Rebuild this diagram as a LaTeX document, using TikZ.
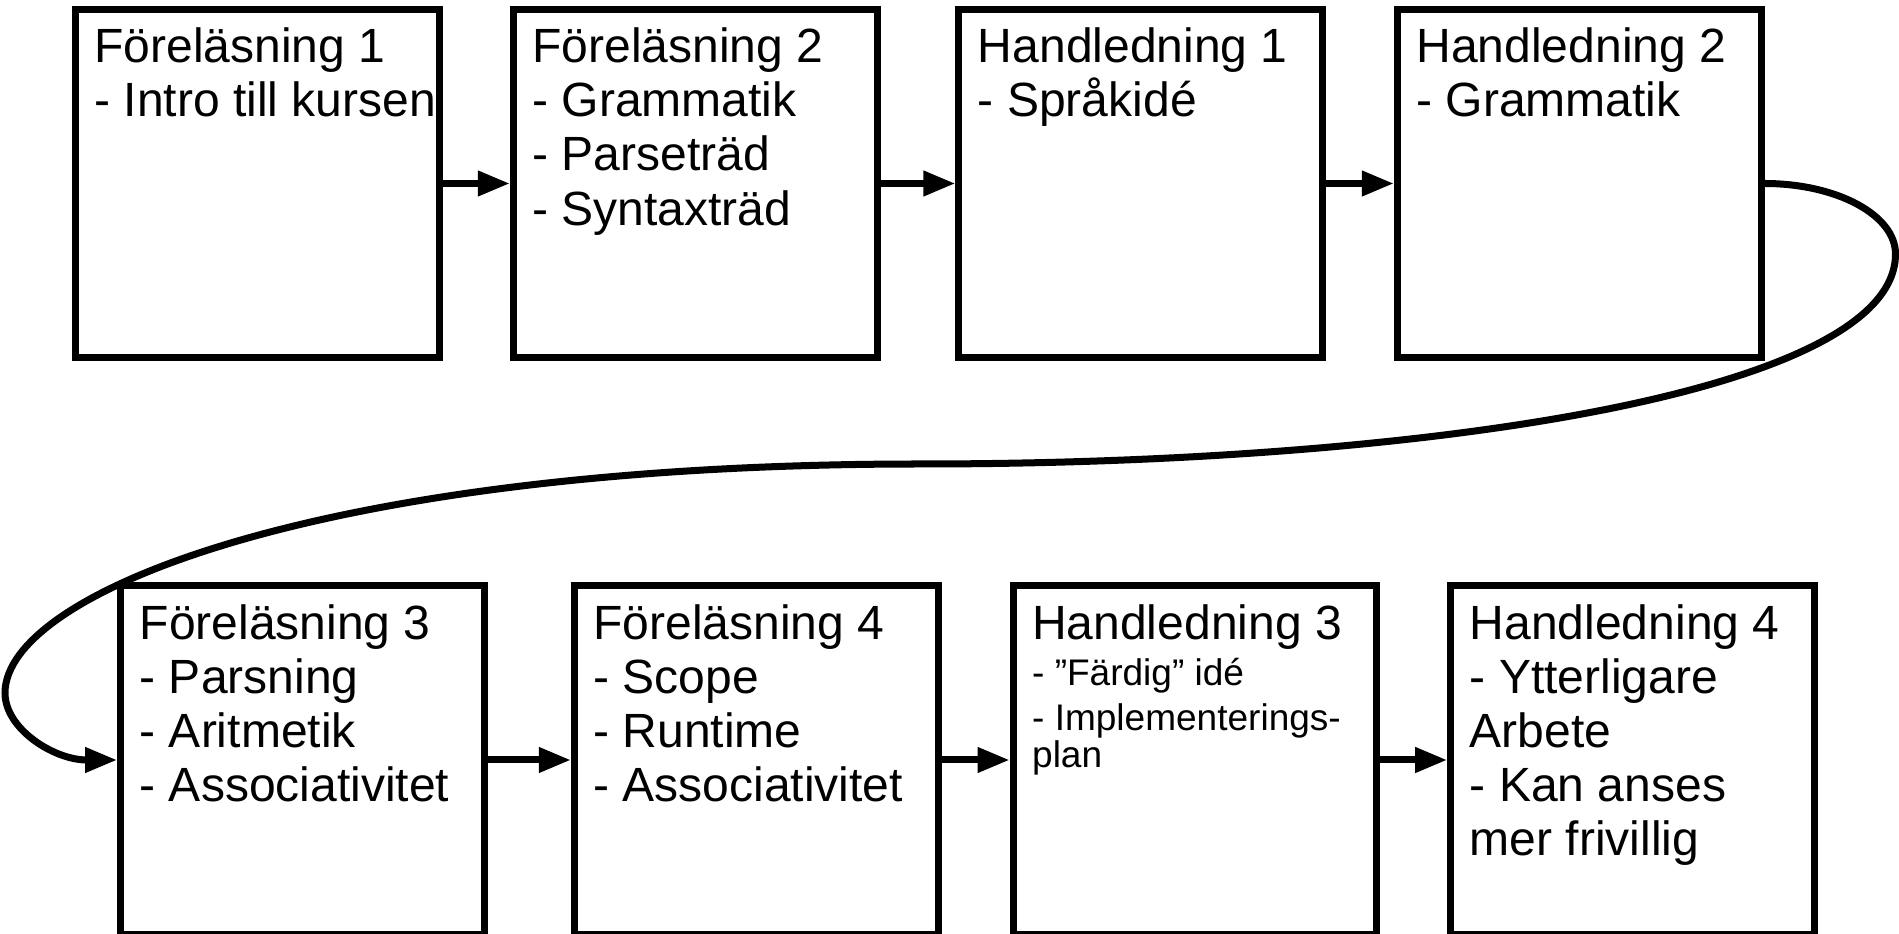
\documentclass[tikz,border=0pt]{standalone}
\usepackage{fontspec}
\setmainfont{Liberation Sans}
\usetikzlibrary{arrows.meta}
\newcommand{\slotline}[2][0.54cm]{\baselineskip=#1\hbox to 3.255cm{#2\hss}}
\newcommand{\smalltext}{\fontsize{10.53pt}{11pt}\selectfont}
\begin{document}
\begin{tikzpicture}[x=0.01cm,y=-0.01cm,line width=0.07cm,
  slot/.style={draw,rectangle,minimum width=3.635cm,minimum height=3.48cm,inner xsep=0.19cm,inner ysep=0pt,
    text height=0.535cm,text depth=2.945cm,font=\fontsize{13.66pt}{15.37pt}\selectfont},
  link/.style={-{Triangle[length=0.32cm,width=0.24cm]}}]
\useasboundingbox (0,0) rectangle (1899,934);
% top row
\node[slot] (f1) at (257.25,183.5) {\vtop{\lineskiplimit=-1cm\slotline{Föreläsning 1}\slotline{- Intro till kursen}}};
\node[slot] (f2) at (695.25,183.5) {\vtop{\lineskiplimit=-1cm\slotline{Föreläsning 2}\slotline{- Grammatik}\slotline{- Parseträd}\slotline{- Syntaxträd}}};
\node[slot] (h1) at (1140.75,183.5) {\vtop{\lineskiplimit=-1cm\slotline{Handledning 1}\slotline{- Språkidé}}};
\node[slot] (h2) at (1579.25,183.5) {\vtop{\lineskiplimit=-1cm\slotline{Handledning 2}\slotline{- Grammatik}}};
% bottom row
\node[slot] (f3) at (302.5,760) {\vtop{\lineskiplimit=-1cm\slotline{Föreläsning 3}\slotline{- Parsning}\slotline{- Aritmetik}\slotline{- Associativitet}}};
\node[slot] (f4) at (756.25,760) {\vtop{\lineskiplimit=-1cm\slotline{Föreläsning 4}\slotline{- Scope}\slotline{- Runtime}\slotline{- Associativitet}}};
\node[slot] (h3) at (1195,760) {\vtop{\lineskiplimit=-1cm\slotline{Handledning 3}\slotline[0.465cm]{\smalltext - ”Färdig” idé}\slotline[0.45cm]{\smalltext - Implementerings-}\slotline[0.37cm]{\smalltext plan}}};
\node[slot] (h4) at (1632.6,760) {\vtop{\lineskiplimit=-1cm\slotline{Handledning 4}\slotline{- Ytterligare}\slotline{Arbete}\slotline{- Kan anses}\slotline{mer frivillig}}};
\foreach \a/\b in {f1/f2,f2/h1,h1/h2,f3/f4,f4/h3,h3/h4}
\draw[link] (\a.east)--(\b.west);
% the turn from the top row down to the bottom row
\coordinate (swing) at (1895.5,254);
\coordinate (mid) at (920,464);
\coordinate (loop) at (5,693);
\draw[link] (h2.east) .. controls +(72,0) and +(0,-39) .. (swing)
  .. controls +(0,140) and +(500,0) .. (mid)
  .. controls +(-600,0) and +(0,-100) .. (loop)
  .. controls +(0,36) and +(-63,0) .. (f3.west);
\end{tikzpicture}
\end{document}
